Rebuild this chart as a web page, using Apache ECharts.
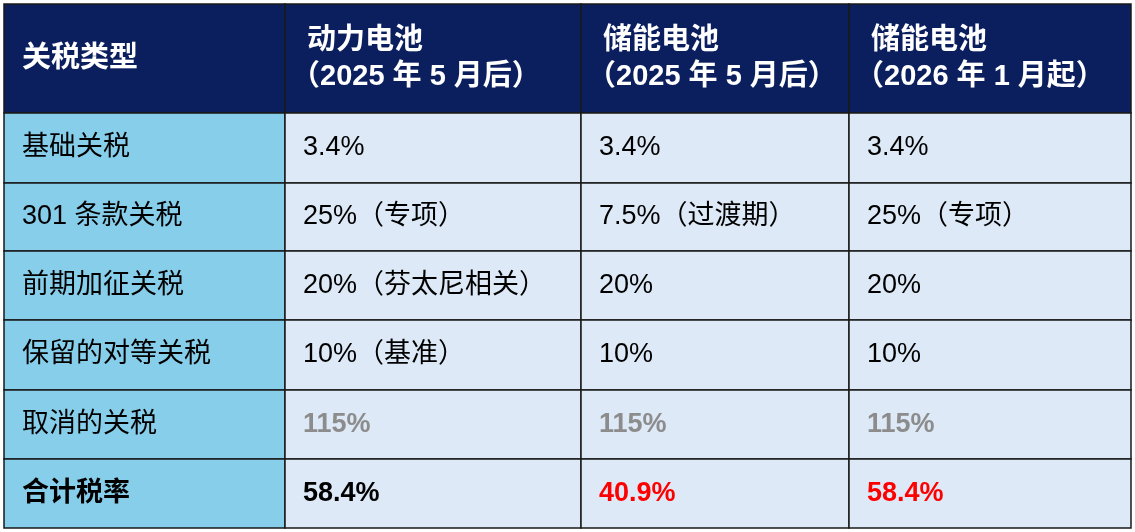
<!DOCTYPE html>
<html><head><meta charset="utf-8">
<script src="https://cdn.jsdelivr.net/npm/echarts@6/dist/echarts.min.js"></script>
<style>html,body{margin:0;background:#fff}#c{width:1135px;height:532px}</style>
</head><body><div id="c"></div>
<script>
// 表格内容
var headers = ['关税类型', '动力电池\n（2025 年 5 月后）', '储能电池\n（2025 年 5 月后）', '储能电池\n（2026 年 1 月起）'];
var rowLabels = ['基础关税', '301 条款关税', '前期加征关税', '保留的对等关税', '取消的关税', '合计税率'];
var powerBattery = ['3.4%', '25%（专项）', '20%（芬太尼相关）', '10%（基准）', '115%', '58.4%'];
var storage2025 = ['3.4%', '7.5%（过渡期）', '20%', '10%', '115%', '40.9%'];
var storage2026 = ['3.4%', '25%（专项）', '20%', '10%', '115%', '58.4%'];

// 版式
var colEdges = [0, 281, 577, 845, 1127];
var rowEdges = [0, 109, 179, 247, 316, 386, 455, 524];
var FONT = '"Liberation Sans","Noto Sans CJK SC",sans-serif';

var cells = [];
for (var c = 0; c < 4; c++) cells.push([c, 0, headers[c]]);
var cols = [rowLabels, powerBattery, storage2025, storage2026];
for (var r = 0; r < rowLabels.length; r++) {
    for (var c = 0; c < 4; c++) cells.push([c, r + 1, cols[c][r]]);
}

function renderItem(params, api) {
    var c = api.value(0), r = api.value(1);
    var text = cells[params.dataIndex][2];
    var p0 = api.coord([colEdges[c], rowEdges[r]]);
    var p1 = api.coord([colEdges[c + 1], rowEdges[r + 1]]);
    var fill = r === 0 ? '#0b1f5e' : (c === 0 ? '#87ceeb' : '#dde9f6');
    var color = '#000', weight = 'normal', size = 27;
    if (r === 0) { color = '#fff'; weight = 'bold'; size = 29; }
    if (r === 5 && c > 0) { color = '#8c8c8c'; weight = 'bold'; }
    if (r === 6) { weight = 'bold'; if (c >= 2) color = '#ff0000'; }
    return {
        type: 'group',
        children: [
            { type: 'rect', shape: { x: p0[0], y: p0[1], width: p1[0] - p0[0], height: p1[1] - p0[1] },
              style: { fill: fill, stroke: '#1a1a1a', lineWidth: 1.5 } },
            { type: 'text', x: p0[0] + (r === 0 && c > 0 ? 6 : 18), y: (p0[1] + p1[1]) / 2,
              style: { text: r === 0 && c > 0 ? text.replace(/^/, '  ') : text,
                       fill: color, fontSize: size, fontWeight: weight, fontFamily: FONT,
                       verticalAlign: 'middle', align: 'left', lineHeight: 36 } }
        ]
    };
}

var chart = echarts.init(document.getElementById('c'));
chart.setOption({
    animation: false,
    grid: { left: 4, top: 4, right: 4, bottom: 4 },
    xAxis: { type: 'value', min: 0, max: 1127, show: false },
    yAxis: { type: 'value', min: 0, max: 524, inverse: true, show: false },
    series: [{
        type: 'custom',
        renderItem: renderItem,
        data: cells.map(function (d) { return [d[0], d[1]]; })
    }]
});
</script></body></html>
